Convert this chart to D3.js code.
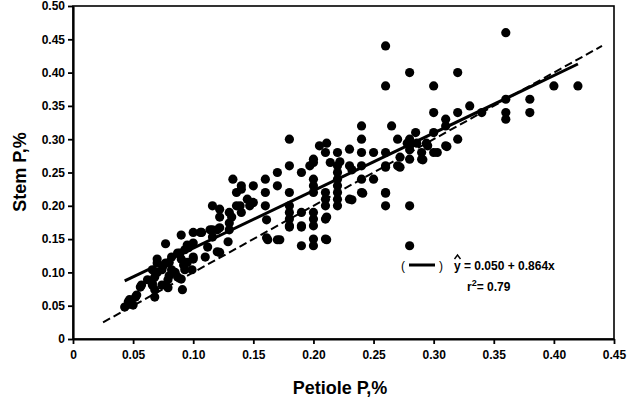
<!DOCTYPE html>
<html>
<head>
<meta charset="utf-8">
<script src="https://cdn.jsdelivr.net/npm/d3@7"></script>
<style>
body{margin:0;background:#fff;}
svg{display:block;font-family:"Liberation Sans",Arial,sans-serif;}
</style>
</head>
<body>
<div id="chart"></div>
<script>
var width=630
	height=400;

// petiole P (x) and stem P (y)
var petioleP=[0.36,0.26,0.26,0.28,0.32,0.30,0.40,0.42,0.38,0.38,0.36,0.36,0.36,0.33,0.32,0.31,0.31,0.30,0.34,0.265,
	0.285,0.27,0.32,0.30,0.24,0.24,0.18,0.205,0.23,0.24,0.21,0.22,0.20,0.25,0.26,0.28,0.28,0.28,0.29,0.295,
	0.31,0.30,0.29,0.278,0.286,0.294,0.311,0.303,0.291,0.28,0.272,0.26,0.272,0.232,0.211,0.222,0.211,0.232,0.241,0.26,
	0.18,0.19,0.197,0.20,0.214,0.22,0.22,0.22,0.22,0.22,0.22,0.22,0.23,0.24,0.26,0.27,0.25,0.24,0.24,0.23,
	0.26,0.26,0.28,0.21,0.21,0.21,0.20,0.20,0.20,0.18,0.18,0.19,0.20,0.17,0.17,0.16,0.16,0.15,0.16,0.14,
	0.145,0.15,0.133,0.136,0.136,0.18,0.18,0.18,0.14,0.147,0.116,0.122,0.13,0.139,0.122,0.132,0.13,0.14,0.161,0.13,
	0.10,0.107,0.116,0.122,0.09,0.116,0.10,0.077,0.129,0.161,0.17,0.18,0.112,0.096,0.089,0.07,0.10,0.11,0.122,0.19,
	0.20,0.20,0.21,0.21,0.20,0.19,0.20,0.211,0.082,0.09,0.10,0.077,0.074,0.082,0.066,0.068,0.062,0.057,0.066,0.074,
	0.079,0.087,0.093,0.092,0.099,0.091,0.079,0.068,0.052,0.046,0.043,0.05,0.068,0.053,0.047,0.12,0.095,0.12,0.087,0.093,
	0.07,0.056,0.066,0.106,0.114,0.075,0.085,0.08,0.095,0.07,0.08,0.09,0.28,0.19,0.162,0.172];
var stemP=[0.46,0.44,0.38,0.40,0.40,0.38,0.38,0.38,0.36,0.34,0.34,0.33,0.36,0.35,0.34,0.33,0.32,0.34,0.34,0.32,
	0.31,0.30,0.30,0.31,0.32,0.30,0.30,0.29,0.285,0.28,0.28,0.28,0.27,0.28,0.28,0.30,0.29,0.27,0.27,0.29,
	0.29,0.28,0.28,0.294,0.294,0.294,0.289,0.28,0.269,0.284,0.273,0.258,0.258,0.254,0.294,0.266,0.183,0.209,0.219,0.219,
	0.26,0.25,0.26,0.265,0.265,0.26,0.25,0.24,0.23,0.22,0.21,0.20,0.26,0.26,0.26,0.26,0.24,0.24,0.22,0.21,
	0.22,0.20,0.20,0.22,0.21,0.20,0.22,0.23,0.24,0.22,0.19,0.19,0.18,0.25,0.23,0.24,0.22,0.23,0.20,0.23,
	0.21,0.205,0.24,0.22,0.20,0.20,0.18,0.17,0.225,0.20,0.20,0.195,0.19,0.20,0.183,0.183,0.174,0.19,0.179,0.164,
	0.16,0.16,0.164,0.167,0.156,0.153,0.144,0.143,0.146,0.152,0.149,0.168,0.138,0.137,0.129,0.12,0.123,0.123,0.13,0.14,
	0.15,0.14,0.15,0.18,0.17,0.17,0.19,0.149,0.123,0.12,0.12,0.114,0.104,0.104,0.104,0.093,0.089,0.081,0.081,0.081,
	0.089,0.093,0.104,0.111,0.104,0.074,0.077,0.074,0.063,0.056,0.048,0.051,0.063,0.066,0.059,0.164,0.141,0.131,0.129,0.134,
	0.114,0.078,0.084,0.16,0.164,0.11,0.10,0.115,0.115,0.10,0.095,0.09,0.14,0.168,0.149,0.149];

var xTicks=[0,0.05,0.10,0.15,0.20,0.25,0.30,0.35,0.40,0.45];
var yTicks=[0,0.05,0.10,0.15,0.20,0.25,0.30,0.35,0.40,0.45,0.50];

// fitted line y = 0.050 + 0.864x and the 1:1 line
var fitRange=[0.043,0.42];
var oneToOneRange=[0.025,0.44];
var fitA=0.050, fitB=0.864;

var svg=d3.select("#chart").append("svg")
	.attr("width",width)
	.attr("height",height);

var x=d3.scaleLinear().domain([0,0.45]).range([73,614]);
var y=d3.scaleLinear().domain([0,0.5]).range([339,6]);

var fmt=function(d){ return d===0 ? "0" : d3.format(".2f")(d); };

// frame
svg.append("rect")
	.attr("x",x(0))
	.attr("y",y(0.5))
	.attr("width",x(0.45)-x(0))
	.attr("height",y(0)-y(0.5))
	.attr("fill","none")
	.attr("stroke","#000")
	.attr("stroke-width",1.6);

var xAxis=svg.append("g")
	.attr("transform","translate(0,"+y(0)+")")
	.call(d3.axisBottom(x).tickValues(xTicks).tickFormat(fmt).tickSize(5).tickSizeOuter(0).tickPadding(6));

var yAxis=svg.append("g")
	.attr("transform","translate("+x(0)+",0)")
	.call(d3.axisLeft(y).tickValues(yTicks).tickFormat(fmt).tickSize(5).tickSizeOuter(0).tickPadding(3));

svg.selectAll(".domain").attr("stroke-width",2.2);
svg.selectAll(".tick line").attr("stroke-width",1.8);
svg.selectAll(".tick text")
	.attr("font-size","12px")
	.attr("font-weight","bold")
	.attr("font-family","'Liberation Sans',Arial,sans-serif")
	.attr("fill","#000");

// dashed 1:1 line
svg.append("line")
	.attr("x1",x(oneToOneRange[0]))
	.attr("y1",y(oneToOneRange[0]))
	.attr("x2",x(oneToOneRange[1]))
	.attr("y2",y(oneToOneRange[1]))
	.attr("stroke","#000")
	.attr("stroke-width",2)
	.attr("stroke-dasharray","8,4");

// regression line
svg.append("line")
	.attr("x1",x(fitRange[0]))
	.attr("y1",y(fitA+fitB*fitRange[0]))
	.attr("x2",x(fitRange[1]))
	.attr("y2",y(fitA+fitB*fitRange[1]))
	.attr("stroke","#000")
	.attr("stroke-width",3);

// points
svg.append("g").selectAll("circle")
	.data(petioleP)
	.enter().append("circle")
	.attr("cx",function(d){ return x(d); })
	.attr("cy",function(d,i){ return y(stemP[i]); })
	.attr("r",4.6)
	.attr("fill","#000");

// axis titles
svg.append("text")
	.attr("x",340)
	.attr("y",394)
	.attr("text-anchor","middle")
	.attr("font-size","18px")
	.attr("font-weight","bold")
	.text("Petiole P,%");

svg.append("text")
	.attr("transform","translate(26,172) rotate(-90)")
	.attr("text-anchor","middle")
	.attr("font-size","18px")
	.attr("font-weight","bold")
	.text("Stem P,%");

// legend
var leg=svg.append("g")
	.attr("font-size","12px")
	.attr("font-weight","bold");

leg.append("text").attr("x",401).attr("y",270).attr("font-weight","normal").text("(");
leg.append("line")
	.attr("x1",409).attr("y1",265)
	.attr("x2",435).attr("y2",265)
	.attr("stroke","#000")
	.attr("stroke-width",3);
leg.append("text").attr("x",439).attr("y",270).attr("font-weight","normal").text(")");
leg.append("text").attr("x",454).attr("y",270).text("y = 0.050 + 0.864x");
// hat over the y
leg.append("path")
	.attr("d","M454.5,259 L457.5,255 L460.5,259")
	.attr("fill","none")
	.attr("stroke","#000")
	.attr("stroke-width",1.4);
leg.append("text").attr("x",467).attr("y",291)
	.text("r")
	.append("tspan").attr("dy",-5).attr("font-size","9px").text("2")
	.select(function(){ return this.parentNode; })
	.append("tspan").attr("dy",5).text("= 0.79");
</script>
</body>
</html>
